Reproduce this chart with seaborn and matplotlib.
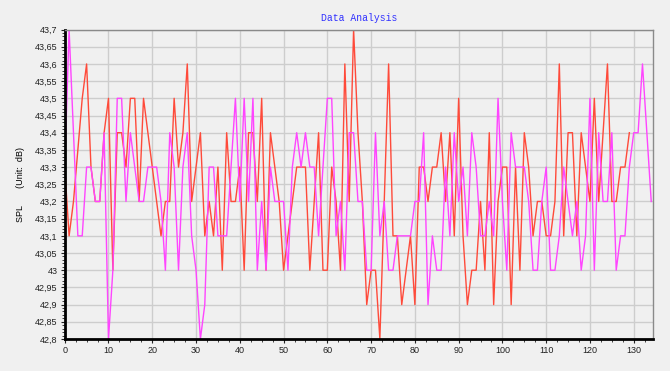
import matplotlib
matplotlib.use("Agg")
import matplotlib.pyplot as plt
import matplotlib.ticker as mticker
import numpy as np
import pandas as pd
import seaborn as sns

# SPL readings, two channels
red_spl = [43.3, 43.1, 43.2, 43.35, 43.5, 43.6, 43.3, 43.2, 43.2, 43.4,
           43.5, 43.0, 43.4, 43.4, 43.3, 43.5, 43.5, 43.2, 43.5, 43.4,
           43.3, 43.2, 43.1, 43.2, 43.2, 43.5, 43.3, 43.4, 43.6, 43.2,
           43.3, 43.4, 43.1, 43.2, 43.1, 43.3, 43.0, 43.4, 43.2, 43.2,
           43.3, 43.0, 43.4, 43.4, 43.2, 43.5, 43.0, 43.4, 43.3, 43.2,
           43.0, 43.1, 43.2, 43.3, 43.3, 43.3, 43.0, 43.2, 43.4, 43.0,
           43.0, 43.3, 43.2, 43.0, 43.6, 43.2, 43.7, 43.4, 43.2, 42.9,
           43.0, 43.0, 42.8, 43.2, 43.6, 43.1, 43.1, 42.9, 43.0, 43.1,
           42.9, 43.3, 43.3, 43.2, 43.3, 43.3, 43.4, 43.2, 43.4, 43.1,
           43.5, 43.1, 42.9, 43.0, 43.0, 43.2, 43.0, 43.4, 42.9, 43.2,
           43.3, 43.3, 42.9, 43.3, 43.0, 43.4, 43.3, 43.1, 43.2, 43.2,
           43.1, 43.1, 43.2, 43.6, 43.1, 43.4, 43.4, 43.1, 43.4, 43.3,
           43.2, 43.5, 43.2, 43.4, 43.6, 43.2, 43.2, 43.3, 43.3, 43.4]

magenta_spl = [43.3, 43.7, 43.4, 43.1, 43.1, 43.3, 43.3, 43.2, 43.2, 43.4,
               42.8, 43.0, 43.5, 43.5, 43.2, 43.4, 43.3, 43.2, 43.2, 43.3,
               43.3, 43.3, 43.2, 43.0, 43.4, 43.3, 43.0, 43.3, 43.4, 43.1,
               43.0, 42.8, 42.9, 43.3, 43.3, 43.1, 43.1, 43.1, 43.3, 43.5,
               43.2, 43.5, 43.2, 43.5, 43.0, 43.2, 43.0, 43.3, 43.2, 43.2,
               43.2, 43.0, 43.3, 43.4, 43.3, 43.4, 43.3, 43.3, 43.1, 43.3,
               43.5, 43.5, 43.1, 43.2, 43.0, 43.4, 43.4, 43.2, 43.2, 43.0,
               43.0, 43.4, 43.1, 43.2, 43.0, 43.0, 43.1, 43.1, 43.1, 43.1,
               43.2, 43.2, 43.4, 42.9, 43.1, 43.0, 43.0, 43.3, 43.1, 43.4,
               43.2, 43.3, 43.1, 43.4, 43.3, 43.1, 43.1, 43.2, 43.1, 43.5,
               43.2, 43.0, 43.4, 43.3, 43.3, 43.3, 43.2, 43.0, 43.0, 43.2,
               43.3, 43.0, 43.0, 43.1, 43.3, 43.2, 43.1, 43.2, 43.0, 43.1,
               43.5, 43.0, 43.4, 43.2, 43.2, 43.4, 43.0, 43.1, 43.1, 43.3,
               43.4, 43.4, 43.6, 43.4, 43.2]

y_ticks = np.round(np.arange(42.8, 43.7001, 0.05), 2)
x_ticks = list(range(0, 131, 10))

bg = '#f0f0f0'
plt.rcParams['font.family'] = ['Liberation Sans', 'DejaVu Sans']

df_red = pd.DataFrame({'idx': range(len(red_spl)), 'spl': red_spl})
df_mag = pd.DataFrame({'idx': range(len(magenta_spl)), 'spl': magenta_spl})

fig = plt.figure(figsize=(6.7, 3.71), dpi=100, facecolor=bg)
ax = fig.add_axes([0.0966, 0.0863, 0.878, 0.834], facecolor=bg)

sns.lineplot(data=df_red, x='idx', y='spl', ax=ax, color='#ff4a3a', linewidth=1.0)
sns.lineplot(data=df_mag, x='idx', y='spl', ax=ax, color='#ff45ff', linewidth=1.0)

ax.set_xlim(0, 134.4)
ax.set_ylim(42.8, 43.7)
ax.set_xticks(x_ticks)
ax.set_yticks(y_ticks)
ax.xaxis.set_minor_locator(mticker.MultipleLocator(2.5))
ax.yaxis.set_minor_locator(mticker.MultipleLocator(0.01))


def comma_fmt(v, pos):
    s = f"{v:.2f}".rstrip('0').rstrip('.')
    return s.replace('.', ',')


ax.yaxis.set_major_formatter(mticker.FuncFormatter(comma_fmt))
ax.tick_params(axis='both', which='major', labelsize=6.5, length=3, width=0.8,
               colors='#222222', pad=2)
ax.tick_params(axis='both', which='minor', length=2, width=0.6, colors='#222222')

ax.grid(True, which='major', color='#cdcdcd', linewidth=1.0)
ax.set_axisbelow(True)

for side in ['left', 'bottom']:
    ax.spines[side].set_color('black')
    ax.spines[side].set_linewidth(2.0)
for side in ['top', 'right']:
    ax.spines[side].set_color('#8a8a8a')
    ax.spines[side].set_linewidth(1.0)

ax.set_xlabel('')
ax.set_ylabel('SPL       (Unit:  dB)', fontsize=6.5, labelpad=7)
ax.set_title('Data Analysis', fontsize=7, color='#3030ff',
             family=['Liberation Mono', 'DejaVu Sans Mono'], pad=6)

fig.savefig('out.png', dpi=100, facecolor=bg)
plt.close()
